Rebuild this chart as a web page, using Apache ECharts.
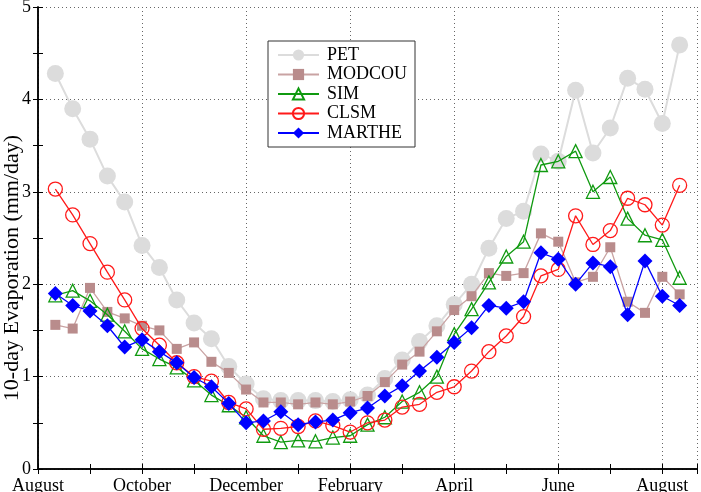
<!DOCTYPE html>
<html lang="en">

<head>
    <meta charset="UTF-8">
    <title>10-day Evaporation</title>
    <script src="https://cdn.jsdelivr.net/npm/echarts/dist/echarts.min.js"></script>
    <style>
        html, body { margin: 0; padding: 0; background: #fff; }
        #chart { width: 701px; height: 492px; }
    </style>
</head>

<body>
    <div id="chart"></div>

    <script>
        // month names for every third dekad (labels shown every 2 months)
        const monthNames = ['August', 'September', 'October', 'November', 'December', 'January',
            'February', 'March', 'April', 'May', 'June', 'July', 'August'];

        // 10-day values, August -> August (37 dekads)
        const pet = [4.28, 3.90, 3.57, 3.17, 2.89, 2.42, 2.18, 1.83, 1.58, 1.41, 1.11, 0.92, 0.76, 0.74, 0.74, 0.74, 0.73, 0.75, 0.80,
            0.98, 1.18, 1.38, 1.55, 1.78, 2.00, 2.39, 2.71, 2.79, 3.41, 3.33, 4.10, 3.42, 3.69, 4.23, 4.11, 3.74, 4.59];
        const modcou = [1.56, 1.52, 1.96, 1.70, 1.63, 1.55, 1.50, 1.30, 1.37, 1.16, 1.04, 0.86, 0.72, 0.72, 0.70, 0.72, 0.70, 0.73, 0.79,
            0.94, 1.13, 1.27, 1.49, 1.72, 1.87, 2.12, 2.09, 2.12, 2.55, 2.46, 2.02, 2.08, 2.40, 1.81, 1.69, 2.08, 1.89];
        const sim = [1.88, 1.93, 1.82, 1.67, 1.49, 1.30, 1.19, 1.10, 0.96, 0.80, 0.69, 0.56, 0.36, 0.29, 0.31, 0.30, 0.34, 0.36, 0.48,
            0.56, 0.73, 0.83, 1.00, 1.46, 1.73, 2.02, 2.30, 2.46, 3.29, 3.33, 3.44, 3.00, 3.16, 2.71, 2.53, 2.48, 2.07];
        const clsm = [3.03, 2.75, 2.44, 2.13, 1.83, 1.52, 1.34, 1.15, 1.00, 0.95, 0.72, 0.65, 0.43, 0.44, 0.46, 0.52, 0.47, 0.40, 0.50,
            0.53, 0.67, 0.70, 0.83, 0.89, 1.06, 1.27, 1.44, 1.65, 2.09, 2.16, 2.74, 2.43, 2.58, 2.93, 2.86, 2.64, 3.07];
        const marthe = [1.90, 1.77, 1.71, 1.55, 1.32, 1.40, 1.27, 1.15, 0.99, 0.89, 0.71, 0.50, 0.52, 0.62, 0.48, 0.51, 0.53, 0.61, 0.66,
            0.79, 0.90, 1.06, 1.21, 1.37, 1.53, 1.77, 1.74, 1.81, 2.34, 2.27, 2.00, 2.23, 2.19, 1.67, 2.25, 1.87, 1.77];

        const font = 'Liberation Serif';

        // x position = dekad number (1..37), axis runs 0..38
        function toPoints(arr) {
            return arr.map((v, i) => [i + 1, v]);
        }

        const tickOnly = {
            show: true, inside: true, length: 5,
            lineStyle: { color: '#000', width: 1 }
        };

        const chart = echarts.init(document.getElementById('chart'));
        chart.setOption({
            animation: false,
            grid: { left: 38, right: 4, top: 7, bottom: 23, outerBoundsMode: 'none' },
            // y axis title, sits a bit below the middle of the axis like the original
            graphic: [{
                type: 'text',
                x: 12, y: 268,
                rotation: Math.PI / 2,
                style: {
                    text: '10-day Evaporation (mm/day)',
                    fontFamily: font, fontSize: 22, fill: '#000',
                    align: 'center', verticalAlign: 'middle'
                }
            }],
            legend: {
                orient: 'vertical',
                left: 268,
                top: 41,
                padding: [5, 8, 5, 9],
                itemGap: 1.5,
                itemWidth: 41,
                itemHeight: 14,
                borderColor: '#333',
                borderWidth: 1,
                backgroundColor: '#fff',
                textStyle: { fontFamily: font, fontSize: 18, color: '#000', padding: [0, 0, 0, 3] },
                data: ['PET', 'MODCOU', 'SIM', 'CLSM', 'MARTHE']
            },
            xAxis: [
                {
                    type: 'value', min: 0, max: 38, interval: 6, position: 'bottom',
                    axisLine: { lineStyle: { color: '#000', width: 1.5 } },
                    axisTick: tickOnly,
                    splitLine: { show: true, lineStyle: { color: '#666', type: [1, 3], width: 1 } },
                    axisLabel: {
                        margin: 8, fontFamily: font, fontSize: 18, color: '#000',
                        formatter: v => (v % 6 === 0 && v <= 36) ? monthNames[v / 3] : ''
                    }
                },
                {
                    type: 'value', min: 0, max: 38, interval: 3, position: 'bottom',
                    axisLine: { show: false }, axisTick: tickOnly,
                    axisLabel: { show: false }, splitLine: { show: false }
                },
                {
                    type: 'value', min: 0, max: 38, interval: 3, position: 'top',
                    axisLine: { lineStyle: { color: '#000', width: 1.5 } }, axisTick: tickOnly,
                    axisLabel: { show: false }, splitLine: { show: false }
                }
            ],
            yAxis: [
                {
                    type: 'value', min: 0, max: 5, interval: 1, position: 'left',
                    axisLine: { lineStyle: { color: '#000', width: 1.5 } },
                    axisTick: tickOnly,
                    splitLine: { show: true, lineStyle: { color: '#666', type: [1, 3], width: 1 } },
                    axisLabel: { margin: 7, fontFamily: font, fontSize: 18, color: '#000' }
                },
                {
                    type: 'value', min: 0, max: 5, interval: 0.5, position: 'left',
                    axisLine: { show: false }, axisTick: tickOnly,
                    axisLabel: { show: false }, splitLine: { show: false }
                },
                {
                    type: 'value', min: 0, max: 5, interval: 0.5, position: 'right',
                    axisLine: { lineStyle: { color: '#000', width: 1.5 } }, axisTick: tickOnly,
                    axisLabel: { show: false }, splitLine: { show: false }
                }
            ],
            series: [
                {
                    name: 'PET', type: 'line', data: toPoints(pet),
                    symbol: 'circle', symbolSize: 17,
                    itemStyle: { color: '#dcdcdc' },
                    lineStyle: { color: '#dcdcdc', width: 2 },
                    z: 2
                },
                {
                    name: 'MODCOU', type: 'line', data: toPoints(modcou),
                    symbol: 'rect', symbolSize: 10,
                    itemStyle: { color: '#b98c8c' },
                    lineStyle: { color: '#c9a3a3', width: 1.3 },
                    z: 3
                },
                {
                    name: 'SIM', type: 'line', data: toPoints(sim),
                    symbol: 'triangle', symbolSize: 13,
                    itemStyle: { color: 'transparent', borderColor: '#109a10', borderWidth: 1.3 },
                    lineStyle: { color: '#109a10', width: 1.3 },
                    z: 4
                },
                {
                    name: 'CLSM', type: 'line', data: toPoints(clsm),
                    symbol: 'circle', symbolSize: 14,
                    itemStyle: { color: 'transparent', borderColor: '#ff1a1a', borderWidth: 1.3 },
                    lineStyle: { color: '#ff1a1a', width: 1.3 },
                    z: 5
                },
                {
                    name: 'MARTHE', type: 'line', data: toPoints(marthe),
                    symbol: 'diamond', symbolSize: 15,
                    itemStyle: { color: '#0000ff' },
                    lineStyle: { color: '#0000ff', width: 1.3 },
                    z: 6
                }
            ]
        });
    </script>
</body>

</html>
